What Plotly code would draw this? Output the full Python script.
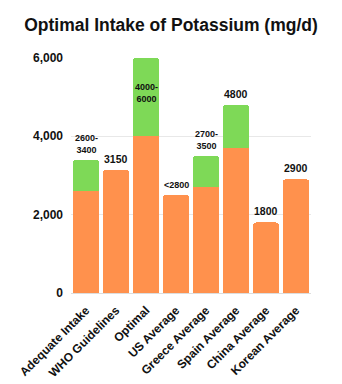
import plotly.graph_objects as go

categories = ["Adequate Intake", "WHO Guidelines", "Optimal", "US Average",
              "Greece Average", "Spain Average", "China Average", "Korean Average"]
base_values = [2600, 3150, 4000, 2500, 2700, 3700, 1800, 2900]
range_extra = [800, 0, 2000, 0, 800, 1100, 0, 0]
labels = ["2600-<br>3400", "3150", "4000-<br>6000", "&lt;2800",
          "2700-<br>3500", "4800", "1800", "2900"]
y_ticks = [0, 2000, 4000, 6000]

ORANGE = "#FF914D"
GREEN = "#7ED957"
FONT = "Liberation Sans"

fig = go.Figure()
fig.add_trace(go.Bar(x=categories, y=base_values, marker_color=ORANGE,
                     marker_line_width=0, hoverinfo="skip"))
fig.add_trace(go.Bar(x=categories, y=range_extra, marker_color=GREEN,
                     marker_line_width=0, hoverinfo="skip"))

totals = [b + e for b, e in zip(base_values, range_extra)]
for cat, tot, lab in zip(categories, totals, labels):
    two_line = "<br>" in lab
    if tot >= max(y_ticks):
        fig.add_annotation(x=cat, y=tot, text=lab, showarrow=False,
                           yanchor="top", yshift=-22,
                           font=dict(size=9, color="#111111", family=FONT, weight="bold"))
    else:
        fig.add_annotation(x=cat, y=tot, text=lab, showarrow=False,
                           yanchor="bottom", yshift=3,
                           font=dict(size=9 if two_line or lab.startswith("&lt;") else 10.5,
                                     color="#111111", family=FONT, weight="bold"))

fig.update_layout(
    barmode="stack",
    bargap=0.13,
    barcornerradius=3,
    width=342, height=384,
    margin=dict(l=71, r=31, t=57, b=91),
    plot_bgcolor="white", paper_bgcolor="white",
    showlegend=False,
    font=dict(family=FONT, color="#111111"),
    title=dict(text="Optimal Intake of Potassium (mg/d)", x=0.5, xanchor="center",
               y=1 - 25 / 384, yanchor="middle",
               font=dict(size=17.5, family=FONT, color="#111111", weight="bold")),
)
fig.update_yaxes(range=[0, 6020], tickvals=y_ticks, tickformat=",",
                 showgrid=True, gridcolor="#e8e8e8", gridwidth=1,
                 zeroline=True, zerolinecolor="#dddddd", zerolinewidth=1,
                 showline=False, ticks="", ticklabelstandoff=7, automargin=False,
                 tickfont=dict(size=12, family=FONT, color="#111111", weight="bold"))
fig.update_xaxes(tickangle=-45, showline=False, ticks="", showgrid=False,
                 ticklabelstandoff=7, automargin=False,
                 tickfont=dict(size=12, family=FONT, color="#111111", weight="bold"))

fig.write_html("out.html")
